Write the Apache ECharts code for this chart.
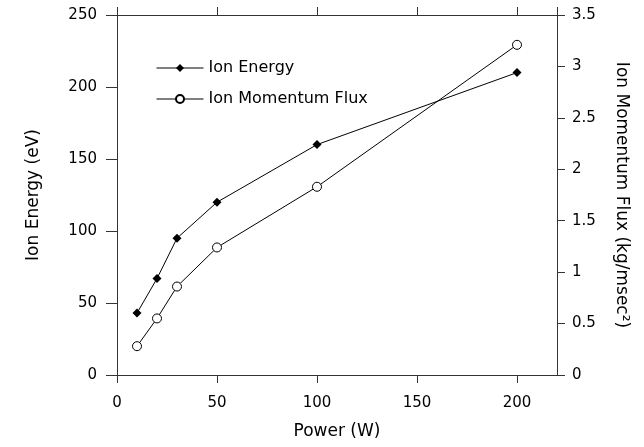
<!DOCTYPE html>
<html>
<head>
<meta charset="utf-8">
<script src="https://cdn.jsdelivr.net/npm/echarts@6/dist/echarts.min.js"></script>
<style>
  html, body { margin: 0; padding: 0; background: #fff; }
  #chart { width: 644px; height: 447px; }
</style>
</head>
<body>
<div id="chart"></div>
<script>
// power settings (W)
var power = [10, 20, 30, 50, 100, 200];
// ion energy (eV), left axis
var ionEnergy = [43, 67, 95, 120, 160, 210];
// ion momentum flux (kg/msec^2), right axis
var momentumFlux = [0.28, 0.55, 0.86, 1.24, 1.83, 3.21];

var axisColor = "#333";
var fontFamily = "DejaVu Sans, sans-serif";

function pairs(xs, ys) {
  return xs.map(function (x, i) { return [x, ys[i]]; });
}

var chart = echarts.init(document.getElementById("chart"));
chart.setOption({
  animation: false,
  textStyle: { fontFamily: fontFamily, color: "#000" },
  grid: { left: 117, top: 15, width: 440, height: 360 },
  legend: {
    left: 151,
    top: 55,
    orient: "vertical",
    itemGap: 15,
    itemWidth: 47,
    itemHeight: 10,
    lineStyle: { width: 1 },
    textStyle: { fontSize: 16, color: "#000", fontFamily: fontFamily },
    data: ["Ion Energy", "Ion Momentum Flux"]
  },
  xAxis: [
    {
      type: "value",
      min: 0,
      max: 220,
      interval: 50,
      name: "Power (W)",
      nameLocation: "middle",
      nameGap: 48,
      nameTextStyle: { fontSize: 17, color: "#000", fontFamily: fontFamily },
      splitLine: { show: false },
      axisLine: { onZero: false, lineStyle: { color: axisColor } },
      axisTick: { length: 8, lineStyle: { color: axisColor } },
      axisLabel: { fontSize: 15, color: "#000", margin: 21,
        showMaxLabel: false,
        formatter: function (v) { return v > 200 ? "" : v; } }
    },
    {
      type: "value",
      position: "top",
      min: 0,
      max: 220,
      interval: 50,
      splitLine: { show: false },
      axisLine: { onZero: false, lineStyle: { color: axisColor } },
      axisTick: { length: 8, lineStyle: { color: axisColor } },
      axisLabel: { show: false }
    }
  ],
  yAxis: [
    {
      type: "value",
      min: 0,
      max: 250,
      interval: 50,
      name: "Ion Energy (eV)",
      nameLocation: "middle",
      nameGap: 75,
      nameTextStyle: { fontSize: 17, color: "#000", fontFamily: fontFamily },
      splitLine: { show: false },
      axisLine: { show: true, onZero: false, lineStyle: { color: axisColor } },
      axisTick: { show: true, length: 11, lineStyle: { color: axisColor } },
      axisLabel: { fontSize: 15, color: "#000", margin: 20 }
    },
    {
      type: "value",
      position: "right",
      min: 0,
      max: 3.5,
      interval: 0.5,
      name: "Ion Momentum Flux (kg/msec²)",
      nameLocation: "middle",
      nameRotate: -90,
      nameGap: 56,
      nameTextStyle: { fontSize: 17, color: "#000", fontFamily: fontFamily },
      splitLine: { show: false },
      axisLine: { show: true, onZero: false, lineStyle: { color: axisColor } },
      axisTick: { show: true, length: 8, lineStyle: { color: axisColor } },
      axisLabel: { fontSize: 15, color: "#000", margin: 15 }
    }
  ],
  series: [
    {
      name: "Ion Energy",
      type: "line",
      xAxisIndex: 0,
      yAxisIndex: 0,
      symbol: "diamond",
      symbolSize: 9,
      itemStyle: { color: "#000" },
      lineStyle: { color: "#000", width: 1 },
      data: pairs(power, ionEnergy)
    },
    {
      name: "Ion Momentum Flux",
      type: "line",
      xAxisIndex: 0,
      yAxisIndex: 1,
      symbol: "circle",
      symbolSize: 9,
      itemStyle: { color: "#fff", borderColor: "#000", borderWidth: 1 },
      lineStyle: { color: "#000", width: 1 },
      data: pairs(power, momentumFlux)
    }
  ]
});
</script>
</body>
</html>
